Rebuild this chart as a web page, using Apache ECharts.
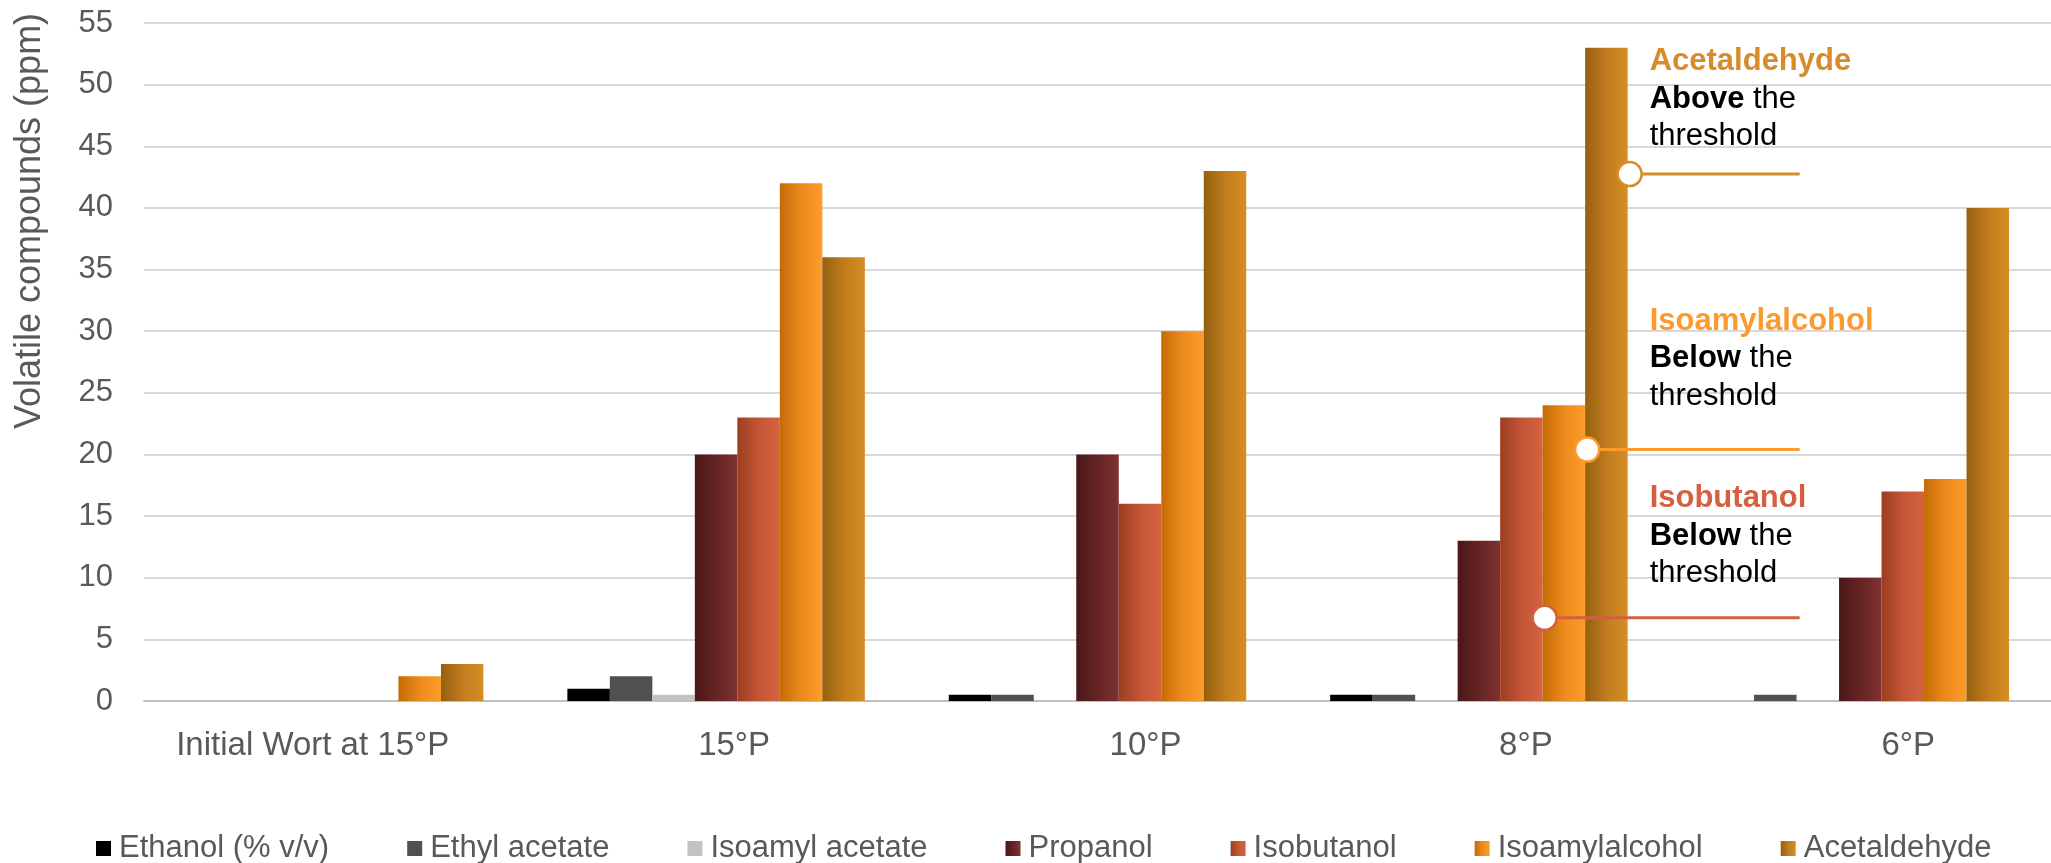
<!DOCTYPE html>
<html>
<head>
<meta charset="utf-8">
<script src="https://cdn.jsdelivr.net/npm/echarts@6/dist/echarts.min.js"></script>
<style>
  html, body { margin: 0; padding: 0; background: #ffffff; }
  #chart { width: 2051px; height: 863px; }
</style>
</head>
<body>
<div id="chart"></div>
<script>
// Fermentation stages (°Plato) and volatile compound levels in ppm
const categories = ['Initial Wort at 15°P', '15°P', '10°P', '8°P', '6°P'];
const seriesNames = ['Ethanol (% v/v)', 'Ethyl acetate', 'Isoamyl acetate', 'Propanol', 'Isobutanol', 'Isoamylalcohol', 'Acetaldehyde'];
const ethanol        = [0, 1,   0.5, 0.5, 0];
const ethylAcetate   = [0, 2,   0.5, 0.5, 0.5];
const isoamylAcetate = [0, 0.5, 0,   0,   0];
const propanol       = [0, 20,  20,  13,  10];
const isobutanol     = [0, 23,  16,  23,  17];
const isoamylalcohol = [2, 42,  30,  24,  18];
const acetaldehyde   = [3, 36,  43,  53,  40];
const yTicks = [0, 5, 10, 15, 20, 25, 30, 35, 40, 45, 50, 55];

// Threshold callouts placed on the 8°P group
const calloutSeries = ['Acetaldehyde', 'Isoamylalcohol', 'Isobutanol'];
const calloutLevels = [42.75, 20.4, 6.75];
const calloutVerdicts = ['Above', 'Below', 'Below'];
const calloutCategory = '8°P';

const FONT = '"Liberation Sans", Arial, sans-serif';
const TEXT_GREY = '#595959';

// shaded bars: darker on the left edge, bright on the right
function grad(c0, c1, c2) {
  return new echarts.graphic.LinearGradient(0, 0.5, 1, 0.5, [
    { offset: 0, color: c0 }, { offset: 0.5, color: c1 }, { offset: 1, color: c2 }
  ]);
}
const colors = {
  'Ethanol (% v/v)': '#000000',
  'Ethyl acetate': '#505050',
  'Isoamyl acetate': '#c2c4c3',
  'Propanol': grad('#4a1717', '#652424', '#7e3232'),
  'Isobutanol': grad('#9c3d20', '#c25636', '#d6623f'),
  'Isoamylalcohol': grad('#c46a06', '#ec8b1d', '#fd9c29'),
  'Acetaldehyde': grad('#94600e', '#c07c1f', '#d68e24')
};
const calloutColors = { 'Acetaldehyde': '#d88b2a', 'Isoamylalcohol': '#fb9b2e', 'Isobutanol': '#d4603f' };
const values = [ethanol, ethylAcetate, isoamylAcetate, propanol, isobutanol, isoamylalcohol, acetaldehyde];

// horizontal nudges of the category labels (px)
const labelShift = [-22, 18, 48, 47, 48];
const rich = {};
labelShift.forEach((s, i) => {
  rich['s' + i] = {
    fontSize: 33, fontFamily: FONT, color: TEXT_GREY,
    padding: s >= 0 ? [0, 0, 0, 2 * s] : [0, -2 * s, 0, 0]
  };
});

const chart = echarts.init(document.getElementById('chart'), null, { renderer: 'canvas' });

const option = {
  animation: false,
  backgroundColor: '#ffffff',
  grid: { left: 144, top: 23, width: 1912, height: 678, containLabel: false },
  legend: {
    left: 91, top: 828,
    itemWidth: 15, itemHeight: 15, itemGap: 78,
    icon: 'rect',
    data: seriesNames,
    textStyle: { fontSize: 31, fontFamily: FONT, color: TEXT_GREY, padding: [0, 0, 0, 3] }
  },
  xAxis: {
    type: 'category',
    data: categories,
    axisTick: { show: false },
    axisLine: { lineStyle: { color: '#bfbfbf', width: 2 } },
    axisLabel: {
      margin: 28,
      formatter: (v, i) => '{s' + i + '|' + v + '}',
      rich: rich
    }
  },
  yAxis: {
    type: 'value',
    min: yTicks[0], max: yTicks[yTicks.length - 1], interval: yTicks[1] - yTicks[0],
    axisLine: { show: false },
    axisTick: { show: false },
    axisLabel: { fontSize: 31, fontFamily: FONT, color: TEXT_GREY, margin: 31 },
    splitLine: { lineStyle: { color: '#d9d9d9', width: 2 } }
  },
  series: seriesNames.map((name, i) => ({
    name: name,
    type: 'bar',
    data: values[i],
    barGap: '0%',
    barCategoryGap: '22%',
    itemStyle: { color: colors[name] }
  }))
};
chart.setOption(option);

// Axis title and threshold callouts
function drawOverlay() {
  const model = chart.getModel();
  const catIdx = categories.indexOf(calloutCategory);
  const elements = [{
    type: 'text',
    x: 30, y: 221,
    rotation: Math.PI / 2,
    style: {
      text: 'Volatile compounds (ppm)',
      fontSize: 36, fontFamily: FONT, fill: TEXT_GREY,
      align: 'center', verticalAlign: 'middle'
    }
  }];
  // right edge of the tallest bar in the group anchors the callout text column
  const acetIdx = seriesNames.indexOf('Acetaldehyde');
  const acetLayout = model.getSeriesByIndex(acetIdx).getData().getItemLayout(catIdx);
  const textX = acetLayout.x + acetLayout.width + 22;
  const lineEndX = textX + 150;
  const textTopOffsets = [-131, -147, -138];

  calloutSeries.forEach((name, k) => {
    const sIdx = seriesNames.indexOf(name);
    const layout = model.getSeriesByIndex(sIdx).getData().getItemLayout(catIdx);
    const cx = layout.x + layout.width + 2;
    const cy = chart.convertToPixel({ yAxisIndex: 0 }, calloutLevels[k]);
    const col = calloutColors[name];
    elements.push({
      type: 'line', z: 10,
      shape: { x1: cx, y1: cy, x2: lineEndX, y2: cy },
      style: { stroke: col, lineWidth: 3 }
    });
    elements.push({
      type: 'circle', z: 11,
      shape: { cx: cx, cy: cy, r: 12 },
      style: { fill: '#ffffff', stroke: col, lineWidth: 2.5 }
    });
    elements.push({
      type: 'text', z: 12,
      x: textX, y: cy + textTopOffsets[k],
      style: {
        text: '{t|' + name + '}\n{b|' + calloutVerdicts[k] + '}{r| the}\n{r|threshold}',
        verticalAlign: 'top', align: 'left',
        rich: {
          t: { fontSize: 31, fontWeight: 'bold', fontFamily: FONT, fill: col, lineHeight: 37.5 },
          b: { fontSize: 31, fontWeight: 'bold', fontFamily: FONT, fill: '#000000', lineHeight: 37.5 },
          r: { fontSize: 31, fontFamily: FONT, fill: '#000000', lineHeight: 37.5 }
        }
      }
    });
  });
  chart.setOption({ graphic: { elements: elements } });
}
drawOverlay();
</script>
</body>
</html>
